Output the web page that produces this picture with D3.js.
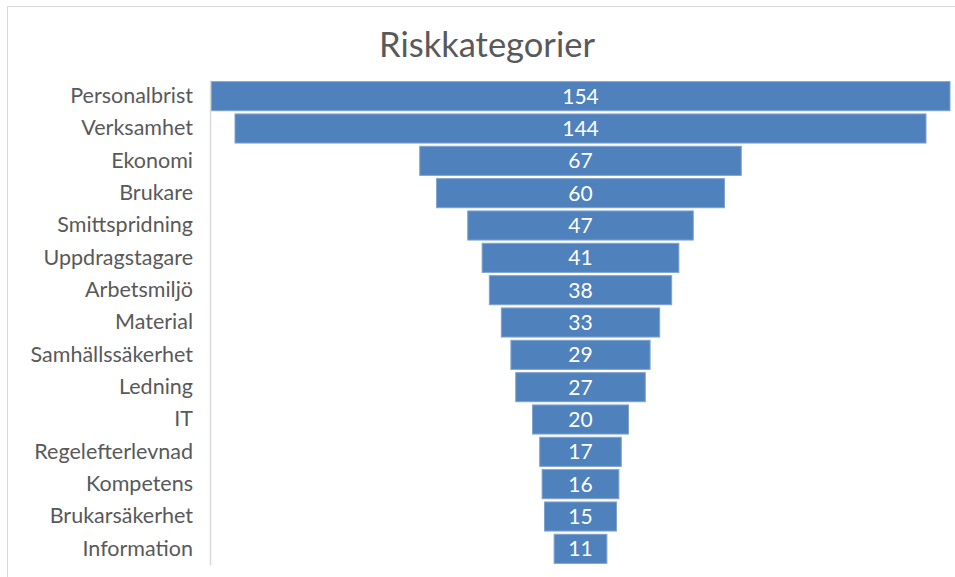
<!DOCTYPE html>
<html>
<head>
<meta charset="utf-8">
<script src="https://cdn.jsdelivr.net/npm/d3@7"></script>
<style>
  body { margin: 0; background: #fff; }
  svg { display: block; font-family: Lato, "Open Sans", sans-serif; }
</style>
</head>
<body>
<div id="chart"></div>
<script>
const categories = ["Personalbrist", "Verksamhet", "Ekonomi", "Brukare", "Smittspridning",
  "Uppdragstagare", "Arbetsmiljö", "Material", "Samhällssäkerhet", "Ledning", "IT",
  "Regelefterlevnad", "Kompetens", "Brukarsäkerhet", "Information"];
const values = [154, 144, 67, 60, 47, 41, 38, 33, 29, 27, 20, 17, 16, 15, 11];
const title = "Riskkategorier";

const width = 955, height = 577;
const plot = { left: 210, right: 951, top: 80, bottom: 565 };
const center = (plot.left + plot.right) / 2;

const svg = d3.select("#chart").append("svg")
  .attr("width", width).attr("height", height);

// chart frame (only left/top visible in the crop)
svg.append("path")
  .attr("d", `M7.5,${height} V6.5 H${width}`)
  .attr("fill", "none").attr("stroke", "#d9d9d9");

svg.append("text")
  .attr("x", 487).attr("y", 57)
  .attr("text-anchor", "middle")
  .attr("font-size", 34.5)
  .attr("fill", "#595959")
  .text(title);

const y = d3.scaleBand()
  .domain(categories)
  .range([plot.top, plot.bottom])
  .paddingInner(0.1).paddingOuter(0.05);

const w = d3.scaleLinear()
  .domain([0, d3.max(values)])
  .range([0, plot.right - plot.left - 2]);

const data = categories.map((c, i) => ({ c, v: values[i] }));

svg.append("g")
  .selectAll("rect")
  .data(data)
  .join("rect")
  .attr("x", d => center - w(d.v) / 2)
  .attr("y", d => y(d.c))
  .attr("width", d => w(d.v))
  .attr("height", y.bandwidth())
  .attr("fill", "#4f81bd")
  .attr("stroke", "#7fa3d0")
  .attr("stroke-width", 1);

svg.append("g")
  .selectAll("text")
  .data(data)
  .join("text")
  .attr("x", center)
  .attr("y", d => y(d.c) + y.bandwidth() / 2)
  .attr("dy", "0.36em")
  .attr("text-anchor", "middle")
  .attr("font-size", 21)
  .attr("fill", "#fff")
  .text(d => d.v);

const axis = svg.append("g")
  .attr("transform", `translate(${plot.left},0)`)
  .call(d3.axisLeft(y).tickSize(0).tickPadding(17));
axis.select(".domain").attr("stroke", "#d9d9d9").attr("stroke-width", 1.5);
axis.selectAll("text")
  .attr("font-size", 21.5)
  .attr("font-family", "Lato, 'Open Sans', sans-serif")
  .attr("fill", "#595959");
</script>
</body>
</html>
